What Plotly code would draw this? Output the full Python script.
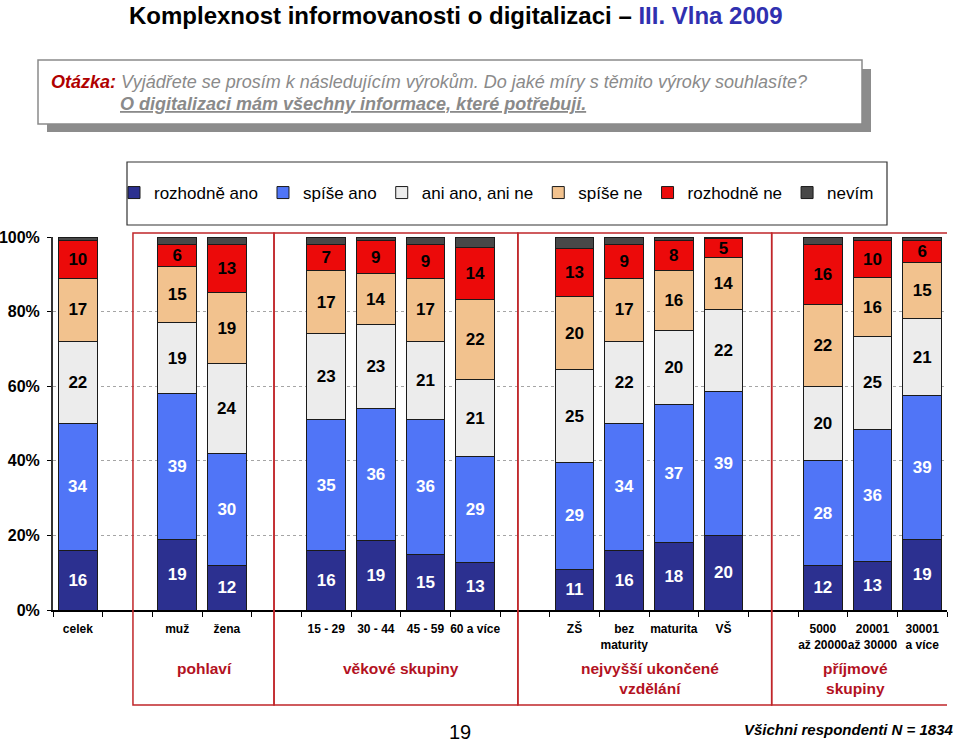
import plotly.graph_objects as go

# ---------------- data ----------------
categories = ["celek", " ", "muž", "žena", "  ", "15 - 29", "30 - 44", "45 - 59", "60 a více",
              "   ", "ZŠ", "bez<br>maturity", "maturita", "VŠ", "    ",
              "5000<br>až 20000", "20001<br>až 30000", "30001<br>a více"]

series_names = ["rozhodně ano", "spíše ano", "ani ano, ani ne", "spíše ne", "rozhodně ne", "nevím"]

rozhodne_ano = [16, None, 19, 12, None, 16, 19, 15, 13, None, 11, 16, 18, 20, None, 12, 13, 19]
spise_ano    = [34, None, 39, 30, None, 35, 36, 36, 29, None, 29, 34, 37, 39, None, 28, 36, 39]
ani_ani      = [22, None, 19, 24, None, 23, 23, 21, 21, None, 25, 22, 20, 22, None, 20, 25, 21]
spise_ne     = [17, None, 15, 19, None, 17, 14, 17, 22, None, 20, 17, 16, 14, None, 22, 16, 15]
rozhodne_ne  = [10, None, 6, 13, None, 7, 9, 9, 14, None, 13, 9, 8, 5, None, 16, 10, 6]
nevim        = [1, None, 2, 2, None, 2, 1, 2, 3, None, 3, 2, 1, 0.5, None, 2, 1, 1]

series_values = [rozhodne_ano, spise_ano, ani_ani, spise_ne, rozhodne_ne, nevim]
colors = ["#2c3090", "#5075f7", "#ececec", "#f2c28e", "#ec0a0a", "#484848"]
text_colors = ["white", "white", "black", "black", "black", "black"]

y_ticks = [0, 20, 40, 60, 80, 100]
y_tick_labels = ["0%", "20%", "40%", "60%", "80%", "100%"]

groups = ["pohlaví", "věkové skupiny", "nejvyšší ukončené<br>vzdělání", "příjmové<br>skupiny"]

# ---------------- layout helpers (pixel -> paper) ----------------
W, H = 960, 743
L, R, T, B = 53, 947, 237, 610
def px(x):
    return (x - L) / (R - L)
def py(y):
    return (B - y) / (B - T)

FONT = "Liberation Sans, Arial, sans-serif"

fig = go.Figure()
for name, vals, col, tcol in zip(series_names, series_values, colors, text_colors):
    labels = [("" if (v is None or name == "nevím") else str(v)) for v in vals]
    fig.add_trace(go.Bar(
        name=name, x=categories, y=vals,
        marker=dict(color=col, line=dict(color="#1a1a1a", width=1)),
        text=labels, textposition="inside", insidetextanchor="middle",
        textangle=0, textfont=dict(family=FONT, size=17, color=tcol, weight="bold"),
        hoverinfo="skip",
    ))

shapes = []
annotations = []

# question box with shadow
shapes.append(dict(type="rect", xref="paper", yref="paper", x0=px(47), x1=px(871), y0=py(132), y1=py(69),
                   fillcolor="#8c8c8c", line=dict(width=0), layer="below"))
shapes.append(dict(type="rect", xref="paper", yref="paper", x0=px(38), x1=px(862), y0=py(124), y1=py(60),
                   fillcolor="white", line=dict(color="#8a8a8a", width=1.5), layer="below"))
# legend box
shapes.append(dict(type="rect", xref="paper", yref="paper", x0=px(127), x1=px(887), y0=py(225), y1=py(162),
                   fillcolor="white", line=dict(color="#333333", width=1.2), layer="below"))

# group boxes (red)
bounds = [1.11, 3.95, 8.86, 13.97, 17.62]
for i in range(4):
    shapes.append(dict(type="rect", xref="x", yref="paper", x0=bounds[i], x1=bounds[i + 1],
                       y0=py(705), y1=py(233), line=dict(color="#c0262a", width=1.5)))

group_centers = [204, 401, 650, 855]
for g, cx in zip(groups, group_centers):
    annotations.append(dict(text="<b>" + g + "</b>", xref="paper", yref="paper", x=px(cx), y=py(658),
                            xanchor="center", yanchor="top", showarrow=False,
                            font=dict(family=FONT, size=15.5, color="#b3121f")))

# title
annotations.append(dict(text="<b>Komplexnost informovanosti o digitalizaci – <span style='color:#3030b0'>III. Vlna 2009</span></b>",
                        xref="paper", yref="paper", x=px(456), y=py(15), xanchor="center", yanchor="middle",
                        showarrow=False, font=dict(family=FONT, size=24, color="black")))
# question
annotations.append(dict(text="<b><i><span style='color:#b00000'>Otázka:</span></i></b><i> Vyjádřete se prosím k následujícím výrokům. Do jaké míry s těmito výroky souhlasíte?</i>",
                        xref="paper", yref="paper", x=px(49), y=py(82), xanchor="left", yanchor="middle",
                        showarrow=False, font=dict(family=FONT, size=18, color="#8a8a8a")))
annotations.append(dict(text="<b><i><u>O digitalizaci mám všechny informace, které potřebuji.</u></i></b>",
                        xref="paper", yref="paper", x=px(118), y=py(104), xanchor="left", yanchor="middle",
                        showarrow=False, font=dict(family=FONT, size=18, color="#8a8a8a")))
# page number and footnote
annotations.append(dict(text="19", xref="paper", yref="paper", x=px(460), y=py(732), xanchor="center",
                        yanchor="middle", showarrow=False, font=dict(family=FONT, size=20, color="black")))
annotations.append(dict(text="<b><i>Všichni respondenti N = 1834</i></b>", xref="paper", yref="paper",
                        x=px(955), y=py(729), xanchor="right", yanchor="middle", showarrow=False,
                        font=dict(family=FONT, size=15, color="black")))

fig.update_layout(
    width=W, height=H,
    margin=dict(l=L, r=W - R, t=T, b=H - B, autoexpand=False),
    barmode="stack", barnorm="percent", bargap=0.22,
    plot_bgcolor="white", paper_bgcolor="white",
    font=dict(family=FONT, color="black"),
    uniformtext=dict(minsize=17, mode="show"),
    showlegend=True,
    legend=dict(orientation="h", x=px(114), y=py(193), xanchor="left", yanchor="middle",
                font=dict(family=FONT, size=17, color="black"), bgcolor="rgba(0,0,0,0)",
                traceorder="normal", itemclick=False),
    shapes=shapes, annotations=annotations,
    xaxis=dict(type="category", categoryorder="array", categoryarray=categories,
               tickson="boundaries", ticks="outside", ticklen=5, tickcolor="black",
               showline=True, linecolor="black", linewidth=1.5, showgrid=False,
               tickfont=dict(family=FONT, size=12, color="black", weight="bold"), tickangle=0,
               ticklabelstandoff=7, automargin=False,
               range=[-0.5, len(categories) - 0.5]),
    yaxis=dict(range=[0, 100], tickvals=y_ticks, ticktext=y_tick_labels,
               ticks="outside", ticklen=4, tickcolor="black",
               showline=True, linecolor="#333333", linewidth=2,
               showgrid=True, gridcolor="#a5a5a5", griddash="dot", gridwidth=1,
               zeroline=False, automargin=False, ticklabelstandoff=4,
               tickfont=dict(family=FONT, size=16, color="black", weight="bold")),
)

fig.write_html("out.html", config={"displayModeBar": False},
               post_script="document.body.style.margin='0';document.body.style.overflow='hidden';")
